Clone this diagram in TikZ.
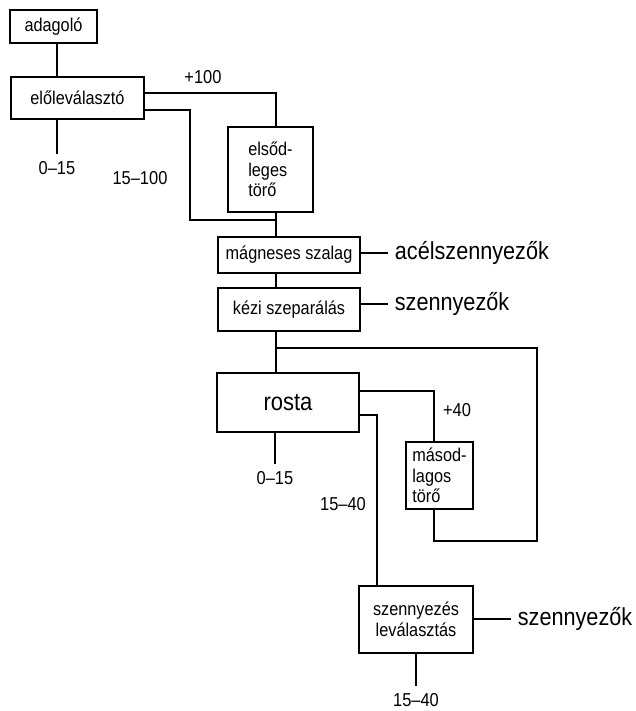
\documentclass[tikz,border=0pt]{standalone}
\usepackage{fontspec}
\setmainfont[FakeStretch=0.88]{Liberation Sans}
\begin{document}
\begin{tikzpicture}[x=1pt,y=-1pt,line width=1.8pt,
  unitbox/.style={draw,line width=1.8pt,inner sep=2pt,align=center,
                  font=\fontsize{18.5}{20.5}\selectfont},
  outlabel/.style={anchor=west,inner sep=6pt,font=\fontsize{24.6}{26}\selectfont},
  sizelabel/.style={inner sep=6pt,font=\fontsize{18.7}{20}\selectfont}]
  \path[use as bounding box] (0,0) rectangle (635,711);

  % process units
  \node[unitbox,minimum width=87pt,minimum height=33pt] (adagolo) at (53.5,26.5) {adagoló};
  \node[unitbox,minimum width=133pt,minimum height=42pt] (elolev) at (77.5,98) {előleválasztó};
  \node[unitbox,minimum width=85pt,minimum height=85pt,align=left] (elsod) at (270.5,169.5)
        {elsőd-\\leges\\törő};
  \node[unitbox,minimum width=142pt,minimum height=36pt] (magn) at (289,255) {mágneses szalag};
  \node[unitbox,minimum width=142pt,minimum height=43pt] (kezi) at (289,309.5) {kézi szeparálás};
  \node[unitbox,minimum width=142pt,minimum height=59pt,font=\fontsize{25}{26}\selectfont]
        (rosta) at (288,402.5) {rosta};
  \node[unitbox,minimum width=67pt,minimum height=67pt,align=left] (masod) at (439.5,475.5)
        {másod-\\lagos\\törő};
  \node[unitbox,minimum width=114pt,minimum height=67pt] (szlev) at (416,619.5)
        {szennyezés\\leválasztás};

  % outputs
  \node[outlabel] (acel) at (388,253) {acélszennyezők};
  \node[outlabel] (szkezi) at (388,304) {szennyezők};
  \node[outlabel] (szvege) at (511,619) {szennyezők};

  % size fractions
  \node[sizelabel] (fin1) at (57,168) {0–15};
  \node[sizelabel] (mid1) at (140,178) {15–100};
  \node[sizelabel] (over1) at (203,77) {+100};
  \node[sizelabel] (over2) at (457,410) {+40};
  \node[sizelabel] (fin2) at (275,478) {0–15};
  \node[sizelabel] (mid2) at (343,504) {15–40};
  \node[sizelabel] (prod) at (416,700) {15–40};

  % junctions
  \coordinate (trunk) at (276,0);
  \coordinate (j100) at (276,93);
  \coordinate (j15) at (190,110);
  \coordinate (merge1) at (276,220);
  \coordinate (merge2) at (276,348);
  \coordinate (loop) at (537,541);
  \coordinate (j40) at (434,391);
  \coordinate (j1540) at (377,415);

  \draw (adagolo.south -| fin1) -- (elolev.north -| fin1);
  \draw (elolev.south -| fin1) -- (fin1.north);
  \draw (j100 -| elolev.east) -- (j100) -- (j100 |- elsod.north);
  \draw (j15 -| elolev.east) -- (j15) |- (merge1);
  \draw (elsod.south -| trunk) -- (magn.north -| trunk);
  \draw (acel.west -| magn.east) -- (acel.west);
  \draw (magn.south -| trunk) -- (kezi.north -| trunk);
  \draw (szkezi.west -| kezi.east) -- (szkezi.west);
  \draw (kezi.south -| trunk) -- (rosta.north -| trunk);
  \draw (merge2) -| (loop) -| (j40 |- masod.south);
  \draw (j40 -| rosta.east) -- (j40) -- (j40 |- masod.north);
  \draw (j1540 -| rosta.east) -- (j1540) -- (j1540 |- szlev.north);
  \draw (rosta.south -| fin2) -- (fin2.north);
  \draw (szvege.west -| szlev.east) -- (szvege.west);
  \draw (szlev.south) -- (prod.north);
\end{tikzpicture}
\end{document}
